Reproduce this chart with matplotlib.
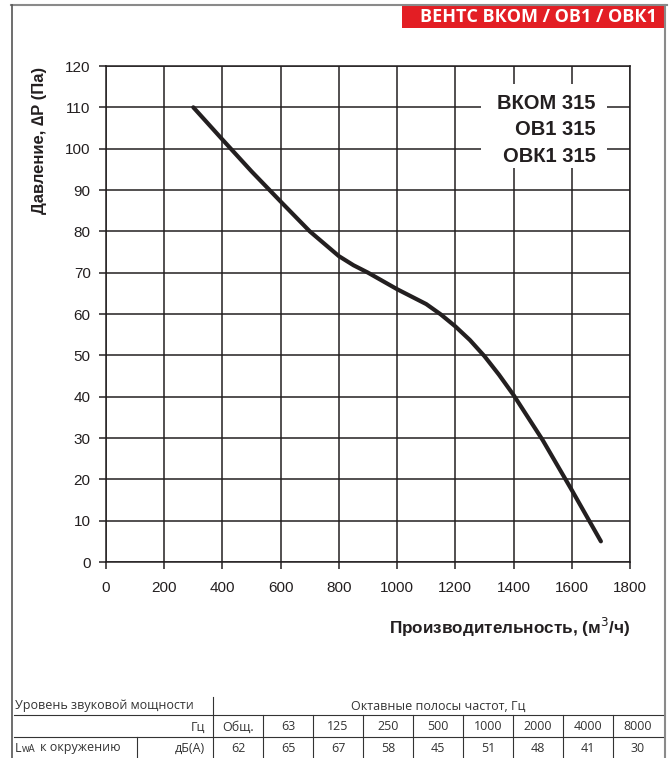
import matplotlib
matplotlib.use("Agg")
import matplotlib.pyplot as plt
from matplotlib.lines import Line2D
from matplotlib.patches import Rectangle

# fan curve
flow = [300, 400, 500, 600, 700, 750, 800, 850, 900, 1000, 1100, 1150, 1200, 1250, 1300,
        1350, 1400, 1500, 1600, 1700]
pressure = [110, 102.2, 94.5, 87.2, 80.0, 77.0, 74.0, 71.8, 70.0, 66.0, 62.4, 59.9, 57.0, 53.7, 49.8,
            45.3, 40.4, 29.5, 17.4, 5]

models = ["ВКОМ 315", "ОВ1 315", "ОВК1 315"]
banner = "ВЕНТС ВКОМ / ОВ1 / ОВК1"

bands = ["Общ.", "63", "125", "250", "500", "1000", "2000", "4000", "8000"]
levels = [62, 65, 67, 58, 45, 51, 48, 41, 30]

W, H = 669, 758
INK = "#231f20"

fig = plt.figure(figsize=(W / 100, H / 100), dpi=100)
fig.patch.set_facecolor("white")


def fx(px):
    return px / W


def fy(py):
    return 1 - py / H


def hline(x0, x1, y, **kw):
    fig.add_artist(Line2D([fx(x0), fx(x1)], [fy(y), fy(y)], transform=fig.transFigure, **kw))


def vline(x, y0, y1, **kw):
    fig.add_artist(Line2D([fx(x), fx(x)], [fy(y0), fy(y1)], transform=fig.transFigure, **kw))


# page frame + banner
hline(11, 667, 5, color="#8a8a8a", lw=1.5)
vline(11.5, 5, 758, color="#555555", lw=1.2)
vline(665, 5, 758, color="#8a8a8a", lw=1.5)
fig.add_artist(Rectangle((fx(402), fy(28)), fx(665) - fx(402), fy(6) - fy(28),
                         transform=fig.transFigure, color="#e31e24", lw=0))
fig.text(fx(657), fy(17), banner, color="white", fontsize=13, fontweight="bold",
         family="Open Sans", ha="right", va="center")

# main chart
ax = fig.add_axes([fx(106), fy(562), fx(630) - fx(106), fy(66) - fy(562)])
ax.set_xlim(0, 1800)
ax.set_ylim(0, 120)
ax.set_xticks(range(0, 1801, 200))
ax.set_yticks(range(0, 121, 10))
ax.grid(True, color=INK, lw=1.1)
for s in ax.spines.values():
    s.set_color(INK)
    s.set_linewidth(1.1)
ax.tick_params(direction="out", length=5, width=1.1, color=INK, labelsize=11, labelcolor=INK)
ax.tick_params(axis="x", pad=9)
ax.tick_params(axis="y", pad=6)
for lab in ax.get_xticklabels() + ax.get_yticklabels():
    lab.set_family("Liberation Sans")

ax.plot(flow, pressure, color=INK, lw=3, solid_capstyle="round", solid_joinstyle="round", zorder=5)

# model labels on a white patch
ax.add_patch(Rectangle((0.716, 0.795), 0.24, 0.168, transform=ax.transAxes,
                       facecolor="white", edgecolor="none", zorder=3))
for i, m in enumerate(models):
    ax.text(0.934, 0.925 - i * 0.054, m, transform=ax.transAxes, ha="right", va="center",
            fontsize=14.5, fontweight="bold", family="Liberation Sans", color=INK, zorder=4)

fig.text(fx(40), fy(140), "Давление, ∆P (Па)", rotation=90, ha="center", va="center",
         fontsize=12, fontweight="bold", family="Liberation Sans", color=INK)
fig.text(fx(630), fy(627), "Производительность, (м$^3$/ч)", ha="right", va="center",
         fontsize=12.3, fontweight="bold", family="Liberation Sans", color=INK)

# sound table
tcol = "#333333"
tfont = dict(family="Open Sans", fontsize=9, color=tcol)
hline(14, 663, 715, color=tcol, lw=0.8)
hline(14, 663, 737, color=tcol, lw=0.8)
vline(213, 697, 758, color=tcol, lw=0.8)
vline(137, 737, 758, color=tcol, lw=0.8)
col_w = (663 - 213) / len(bands)
for i in range(1, len(bands)):
    vline(213 + i * col_w, 715, 758, color=tcol, lw=0.8)

fig.text(fx(15), fy(706), "Уровень звуковой мощности", ha="left", va="center", **tfont)
fig.text(fx(438), fy(706), "Октавные полосы частот, Гц", ha="center", va="center", **tfont)
fig.text(fx(205), fy(727), "Гц", ha="right", va="center", **tfont)
fig.text(fx(15), fy(748), "L", ha="left", va="center", **tfont)
fig.text(fx(22), fy(750), "wA", ha="left", va="center", family="Open Sans", fontsize=7, color=tcol)
fig.text(fx(40), fy(748), "к окружению", ha="left", va="center", **tfont)
fig.text(fx(205), fy(748), "дБ(А)", ha="right", va="center", **tfont)
for i, (b, v) in enumerate(zip(bands, levels)):
    cx = 213 + (i + 0.5) * col_w
    fig.text(fx(cx), fy(727), b, ha="center", va="center", **tfont)
    fig.text(fx(cx), fy(748), str(v), ha="center", va="center", **tfont)

fig.savefig("out.png", dpi=100)
